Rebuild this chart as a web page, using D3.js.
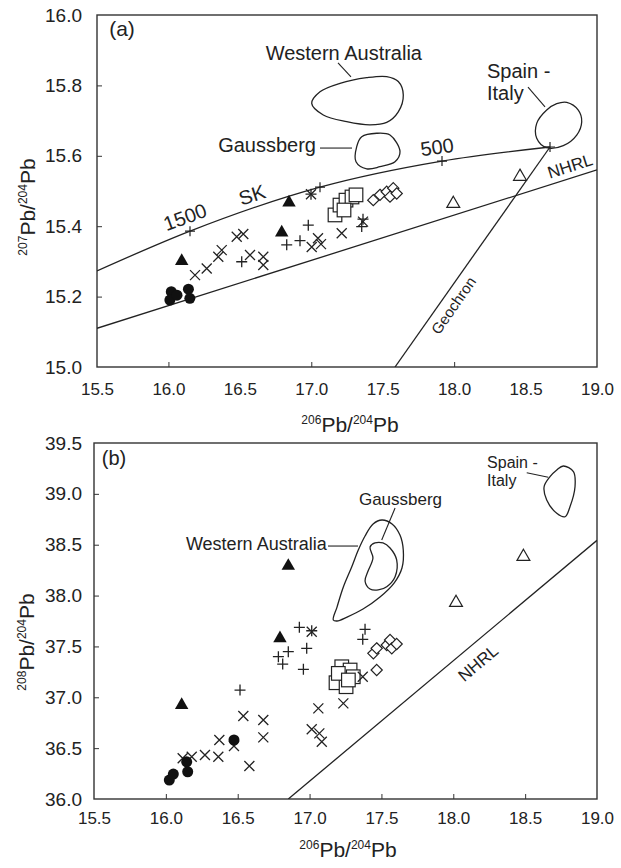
<!DOCTYPE html>
<html>
<head>
<meta charset="utf-8">
<script src="https://cdn.jsdelivr.net/npm/d3@7"></script>
<style>
  body { margin: 0; background: #fff; }
  svg text { font-family: "Liberation Sans", Arial, sans-serif; fill: #222; }
</style>
</head>
<body>
<svg id="chart" width="621" height="868"></svg>
<script>
// tick labels
const xTicks = [15.5, 16.0, 16.5, 17.0, 17.5, 18.0, 18.5, 19.0];
const yTicksA = [15.0, 15.2, 15.4, 15.6, 15.8, 16.0];
const yTicksB = [36.0, 36.5, 37.0, 37.5, 38.0, 38.5, 39.0, 39.5];

// ---- panel (a): 207Pb/204Pb vs 206Pb/204Pb
const circlesA = [[16.02, 15.214], [16.01, 15.190], [16.06, 15.204], [16.14, 15.221], [16.15, 15.195]];
const filledTriA = [[16.093, 15.301], [16.844, 15.467], [16.793, 15.382]];
const openTriA = [[17.994, 15.464], [18.461, 15.541]];
const squaresA = [[17.166, 15.432], [17.201, 15.460], [17.243, 15.474], [17.285, 15.483], [17.313, 15.489], [17.229, 15.446]];
const diamondsA = [[17.434, 15.474], [17.481, 15.489], [17.528, 15.498], [17.574, 15.508], [17.551, 15.484], [17.598, 15.493]];
const crossesA = [[16.186, 15.261], [16.268, 15.280], [16.349, 15.313], [16.373, 15.332], [16.478, 15.370],
  [16.524, 15.378], [16.571, 15.318], [16.664, 15.313], [16.664, 15.290], [17.003, 15.341], [17.047, 15.366],
  [17.068, 15.349], [17.213, 15.380], [17.362, 15.413], [16.998, 15.491]];
const plusesA = [[16.513, 15.299], [16.828, 15.347], [16.921, 15.359], [16.979, 15.403], [17.353, 15.399],
  [17.362, 15.420], [16.998, 15.491]];

// Stacey-Kramers growth curve with age marks (Ma)
const skCurve = [[15.5, 15.273], [16.151, 15.386], [17.061, 15.511], [17.915, 15.585], [18.671, 15.625]];
const skAges = [[16.151, 15.386], [17.061, 15.511], [17.915, 15.585], [18.671, 15.625]];
const nhrlA = [[15.5, 15.110], [19.0, 15.560]];
const geochron = [[17.586, 15.0], [18.671, 15.625]];

const waFieldA = [[17.003, 15.749], [17.061, 15.782], [17.201, 15.806], [17.388, 15.822], [17.528, 15.825],
  [17.609, 15.811], [17.644, 15.773], [17.609, 15.725], [17.528, 15.695], [17.411, 15.688], [17.248, 15.697], [17.084, 15.716]];
const gbFieldA = [[17.353, 15.654], [17.458, 15.664], [17.551, 15.659], [17.621, 15.612], [17.586, 15.583],
  [17.481, 15.569], [17.388, 15.563], [17.313, 15.583], [17.318, 15.626]];
const siFieldA = [[18.788, 15.752], [18.869, 15.730], [18.893, 15.697], [18.858, 15.659], [18.764, 15.629],
  [18.648, 15.623], [18.578, 15.650], [18.578, 15.692], [18.648, 15.730], [18.718, 15.748]];

// ---- panel (b): 208Pb/204Pb vs 206Pb/204Pb
const circlesB = [[16.024, 36.186], [16.052, 36.245], [16.145, 36.366], [16.152, 36.268], [16.474, 36.580]];
const filledTriB = [[16.110, 36.924], [16.852, 38.291], [16.794, 37.580]];
const openTriB = [[18.488, 38.382], [18.019, 37.930]];
const squaresB = [[17.184, 37.143], [17.254, 37.104], [17.224, 37.300], [17.282, 37.268], [17.304, 37.202],
  [17.200, 37.235], [17.270, 37.170]];
const diamondsB = [[17.444, 37.432], [17.467, 37.481], [17.537, 37.514], [17.560, 37.563], [17.572, 37.481],
  [17.606, 37.524], [17.467, 37.268]];
const crossesB = [[16.117, 36.400], [16.180, 36.415], [16.272, 36.432], [16.365, 36.415], [16.372, 36.580],
  [16.474, 36.521], [16.581, 36.324], [16.539, 36.816], [16.678, 36.776], [16.678, 36.606], [17.061, 36.891],
  [17.015, 36.685], [17.068, 36.645], [17.085, 36.563], [17.235, 36.940], [17.370, 37.202], [17.015, 37.645]];
const plusesB = [[16.516, 37.071], [16.783, 37.399], [16.813, 37.327], [16.852, 37.448], [16.980, 37.481],
  [16.957, 37.275], [16.929, 37.688], [17.015, 37.654], [17.386, 37.668], [17.370, 37.570]];

const nhrlB = [[16.852, 36.0], [19.0, 38.543]];
const waFieldB = [[17.165, 37.760], [17.191, 37.887], [17.235, 38.084], [17.293, 38.281], [17.339, 38.448],
  [17.386, 38.586], [17.442, 38.704], [17.504, 38.743], [17.574, 38.704], [17.629, 38.595], [17.652, 38.448],
  [17.643, 38.271], [17.588, 38.123], [17.490, 37.986], [17.372, 37.868], [17.261, 37.789], [17.191, 37.750]];
const gbFieldB = [[17.421, 38.477], [17.455, 38.517], [17.511, 38.517], [17.560, 38.468], [17.606, 38.350],
  [17.595, 38.185], [17.537, 38.087], [17.478, 38.055], [17.421, 38.064], [17.386, 38.143], [17.407, 38.241], [17.441, 38.369]];
const siFieldB = [[18.766, 39.274], [18.836, 39.218], [18.847, 39.070], [18.812, 38.873], [18.778, 38.775],
  [18.720, 38.809], [18.650, 38.940], [18.632, 39.070], [18.673, 39.169], [18.720, 39.235]];

const svg = d3.select("#chart");
const ink = "#222";

const crossPath = s => `M${-s},${-s}L${s},${s}M${-s},${s}L${s},${-s}`;
const plusPath = s => `M${-s},0H${s}M0,${-s}V${s}`;
const diamondPath = s => `M0,${-s}L${s},0L0,${s}L${-s},0Z`;

function drawPanel(p) {
  const x = d3.scaleLinear().domain([15.5, 19.0]).range([p.left, p.right]);
  const y = d3.scaleLinear().domain(p.yDomain).range([p.bottom, p.top]);
  const g = svg.append("g");

  g.append("clipPath").attr("id", "clip" + p.id)
    .append("rect").attr("x", p.left).attr("y", p.top)
    .attr("width", p.right - p.left).attr("height", p.bottom - p.top);

  // tick labels
  g.append("g").attr("transform", `translate(0,${p.bottom})`)
    .call(d3.axisBottom(x).tickValues(xTicks).tickSize(0).tickPadding(p.xPad).tickFormat(d3.format(".1f")))
    .attr("font-family", null).attr("font-size", 17)
    .call(a => a.select(".domain").remove());
  g.append("g").attr("transform", `translate(${p.left},0)`)
    .call(d3.axisLeft(y).tickValues(p.yTicks).tickSize(0).tickPadding(p.yPad).tickFormat(d3.format(".1f")))
    .attr("font-family", null).attr("font-size", 19)
    .call(a => a.select(".domain").remove());

  // inward ticks
  g.append("g").attr("transform", `translate(0,${p.bottom})`).attr("color", "#333")
    .call(d3.axisBottom(x).tickValues(p.xInner).tickSize(-5).tickFormat(""))
    .call(a => a.select(".domain").remove());
  g.append("g").attr("transform", `translate(${p.left},0)`).attr("color", "#333")
    .call(d3.axisLeft(y).tickValues(p.yTicks.slice(1, -1)).tickSize(-5).tickFormat(""))
    .call(a => a.select(".domain").remove());

  g.append("rect").attr("x", p.left).attr("y", p.top)
    .attr("width", p.right - p.left).attr("height", p.bottom - p.top)
    .attr("fill", "none").attr("stroke", "#333").attr("stroke-width", 1.4);

  // axis titles
  const xt = g.append("text").attr("x", p.xTitle[0]).attr("y", p.xTitle[1]).attr("text-anchor", "middle");
  supTitle(xt, "206", "204");
  const yt = g.append("text").attr("text-anchor", "middle")
    .attr("transform", `translate(${p.yTitle[0]},${p.yTitle[1]}) rotate(-90)`);
  supTitle(yt, p.yIso, "204");

  const plot = g.append("g").attr("clip-path", `url(#clip${p.id})`);
  const line = d3.line().x(d => x(d[0])).y(d => y(d[1]));
  const field = d3.line().x(d => x(d[0])).y(d => y(d[1])).curve(d3.curveCatmullRomClosed.alpha(0.5));

  p.lines.forEach(l => plot.append("path").attr("d", line(l))
    .attr("fill", "none").attr("stroke", ink).attr("stroke-width", 1.3));
  if (p.sk) {
    plot.append("path").attr("d", line.curve(d3.curveMonotoneX)(p.sk))
      .attr("fill", "none").attr("stroke", ink).attr("stroke-width", 1.3);
    plot.selectAll(".age").data(p.skAges).join("path")
      .attr("transform", d => `translate(${x(d[0])},${y(d[1])})`)
      .attr("d", plusPath(5)).attr("stroke", ink).attr("stroke-width", 1.2);
  }
  p.fields.forEach(f => plot.append("path").attr("d", field(f))
    .attr("fill", "none").attr("stroke", ink).attr("stroke-width", 1.3));

  // leaders
  p.leaders.forEach(l => g.append("path").attr("d", line.curve(d3.curveLinear)(l))
    .attr("stroke", ink).attr("stroke-width", 1.1).attr("fill", "none"));

  // labels
  p.labels.forEach(l => {
    const t = g.append("text")
      .attr("transform", `translate(${x(l.at[0])},${y(l.at[1])}) rotate(${l.rot || 0})`)
      .attr("text-anchor", l.anchor || "middle")
      .attr("dominant-baseline", l.mid ? "central" : null)
      .attr("font-size", l.size);
    l.text.forEach((s, i) => t.append("tspan").attr("x", 0).attr("dy", i ? "1.1em" : 0).text(s));
  });

  const at = d => `translate(${x(d[0])},${y(d[1])})`;
  plot.selectAll(".sq").data(p.squares).join("rect")
    .attr("x", d => x(d[0]) - 6.8).attr("y", d => y(d[1]) - 6.8)
    .attr("width", 13.6).attr("height", 13.6)
    .attr("fill", "#fff").attr("stroke", ink).attr("stroke-width", 1.2);
  plot.selectAll(".dm").data(p.diamonds).join("path")
    .attr("transform", at).attr("d", diamondPath(5.6))
    .attr("fill", "#fff").attr("stroke", ink).attr("stroke-width", 1.2);
  plot.selectAll(".xx").data(p.crosses).join("path")
    .attr("transform", at).attr("d", crossPath(5))
    .attr("stroke", ink).attr("stroke-width", 1.3);
  plot.selectAll(".pp").data(p.pluses).join("path")
    .attr("transform", at).attr("d", plusPath(5.5))
    .attr("stroke", ink).attr("stroke-width", 1.3);
  plot.selectAll(".ot").data(p.openTri).join("path")
    .attr("transform", at).attr("d", d3.symbol(d3.symbolTriangle, 72)())
    .attr("fill", "#fff").attr("stroke", ink).attr("stroke-width", 1.2);
  plot.selectAll(".ft").data(p.filledTri).join("path")
    .attr("transform", at).attr("d", d3.symbol(d3.symbolTriangle, 78)())
    .attr("fill", "#111");
  plot.selectAll(".ci").data(p.circles).join("circle")
    .attr("cx", d => x(d[0])).attr("cy", d => y(d[1])).attr("r", 5.5)
    .attr("fill", "#111");
}

function supTitle(t, a, b) {
  t.append("tspan").attr("font-size", 12).attr("dy", -8).text(a);
  t.append("tspan").attr("font-size", 21).attr("dy", 8).text("Pb/");
  t.append("tspan").attr("font-size", 12).attr("dy", -8).text(b);
  t.append("tspan").attr("font-size", 21).attr("dy", 8).text("Pb");
}

drawPanel({
  id: "a", left: 97, right: 597, top: 15, bottom: 367,
  yDomain: [15.0, 16.0], yTicks: yTicksA, xInner: [16.0, 17.0, 18.0],
  xPad: 16, yPad: 15, xTitle: [350, 432], yTitle: [35, 207], yIso: "207",
  lines: [nhrlA, geochron], sk: skCurve, skAges: skAges,
  fields: [waFieldA, gbFieldA, siFieldA],
  leaders: [[[17.187, 15.864], [17.278, 15.824]], [[17.061, 15.622], [17.285, 15.622]], [[18.517, 15.795], [18.636, 15.739]]],
  labels: [
    { text: ["(a)"], at: [15.675, 15.963], size: 21, mid: true },
    { text: ["Western Australia"], at: [17.775, 15.872], size: 20, anchor: "end" },
    { text: ["Gaussberg"], at: [17.033, 15.611], size: 20, anchor: "end" },
    { text: ["Spain -", "Italy"], at: [18.23, 15.821], size: 20, anchor: "start" },
    { text: ["SK"], at: [16.585, 15.489], size: 20, rot: -18, mid: true },
    { text: ["1500"], at: [16.116, 15.426], size: 20, rot: -20, mid: true },
    { text: ["500"], at: [17.88, 15.625], size: 20, rot: -8, mid: true },
    { text: ["NHRL"], at: [18.811, 15.571], size: 17, rot: -17.5, mid: true },
    { text: ["Geochron"], at: [17.992, 15.176], size: 15, rot: -55, mid: true }
  ],
  circles: circlesA, filledTri: filledTriA, openTri: openTriA, squares: squaresA,
  diamonds: diamondsA, crosses: crossesA, pluses: plusesA
});

drawPanel({
  id: "b", left: 94, right: 597, top: 443, bottom: 799,
  yDomain: [36.0, 39.5], yTicks: yTicksB, xInner: [16.0, 16.5, 17.0, 17.5, 18.0, 18.5],
  xPad: 13, yPad: 12, xTitle: [348, 857], yTitle: [34, 642], yIso: "208",
  lines: [nhrlB],
  fields: [waFieldB, gbFieldB, siFieldB],
  leaders: [[[17.128, 38.487], [17.337, 38.487]], [[17.595, 38.861], [17.502, 38.546]], [[18.511, 39.208], [18.661, 39.163]]],
  labels: [
    { text: ["(b)"], at: [15.639, 39.353], size: 20, mid: true },
    { text: ["Western Australia"], at: [17.119, 38.448], size: 18, anchor: "end" },
    { text: ["Gaussberg"], at: [17.922, 38.89], size: 17, anchor: "end" },
    { text: ["Spain -", "Italy"], at: [18.235, 39.254], size: 16, anchor: "start" },
    { text: ["NHRL"], at: [18.172, 37.337], size: 17, rot: -40, mid: true }
  ],
  circles: circlesB, filledTri: filledTriB, openTri: openTriB, squares: squaresB,
  diamonds: diamondsB, crosses: crossesB, pluses: plusesB
});
</script>
</body>
</html>
